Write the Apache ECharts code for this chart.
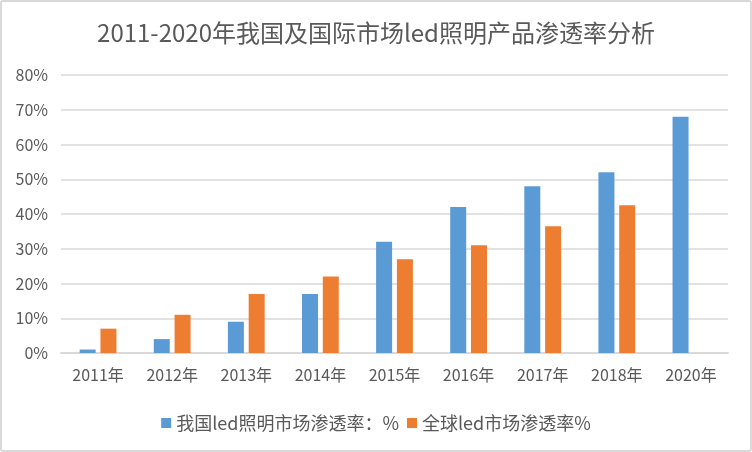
<!DOCTYPE html>
<html><head><meta charset="utf-8">
<script src="https://cdn.jsdelivr.net/npm/echarts@6/dist/echarts.min.js"></script>
<style>
html,body{margin:0;padding:0;background:#fff;}
#wrap{position:relative;width:752px;height:452px;}
#c{position:absolute;left:0;top:0;width:752px;height:452px;}
#frame{position:absolute;left:0;top:0;width:752px;height:452px;box-sizing:border-box;border:2px solid #d9d9d9;border-radius:3px;pointer-events:none;}
</style></head>
<body>
<div id="wrap"><div id="c"></div><div id="frame"></div></div>
<script>
const categories = ['2011年','2012年','2013年','2014年','2015年','2016年','2017年','2018年','2020年'];
const chinaValues = [1, 4, 9, 17, 32, 42, 48, 52, 68];
const globalValues = [7, 11, 17, 22, 27, 31, 36.5, 42.5, null];
const seriesNames = ['我国led照明市场渗透率：%', '全球led市场渗透率%'];
const titleText = '2011-2020年我国及国际市场led照明产品渗透率分析';

const font = '"Noto Sans CJK SC", "Noto Sans", sans-serif';
const chart = echarts.init(document.getElementById('c'));
chart.setOption({
  backgroundColor: '#fff',
  animation: false,
  title: {
    text: titleText, left: 'center', top: 16,
    textStyle: { fontFamily: font, fontSize: 24, fontWeight: 'normal', color: '#595959' }
  },
  legend: {
    data: seriesNames, left: 'center', top: 409,
    itemWidth: 10, itemHeight: 10, itemGap: 8, icon: 'rect',
    textStyle: { fontFamily: font, fontSize: 18, color: '#595959' }
  },
  grid: { left: 61, right: 24, top: 75, bottom: 99 },
  xAxis: {
    type: 'category', data: categories,
    axisLine: { lineStyle: { color: '#d9d9d9', width: 2 } },
    axisTick: { show: false },
    axisLabel: { fontFamily: font, fontSize: 16, color: '#595959', margin: 14 }
  },
  yAxis: {
    type: 'value', min: 0, max: 80, interval: 10,
    axisLine: { show: false }, axisTick: { show: false },
    splitLine: { lineStyle: { color: '#d9d9d9', width: 1.5 } },
    axisLabel: { formatter: '{value}%', fontFamily: font, fontSize: 16, color: '#595959', margin: 13 }
  },
  series: [
    { name: seriesNames[0], type: 'bar', data: chinaValues, barWidth: 16, barGap: '30%', itemStyle: { color: '#5B9BD5' } },
    { name: seriesNames[1], type: 'bar', data: globalValues, barWidth: 16, barGap: '30%', itemStyle: { color: '#ED7D31' } }
  ]
});
</script>
</body></html>
